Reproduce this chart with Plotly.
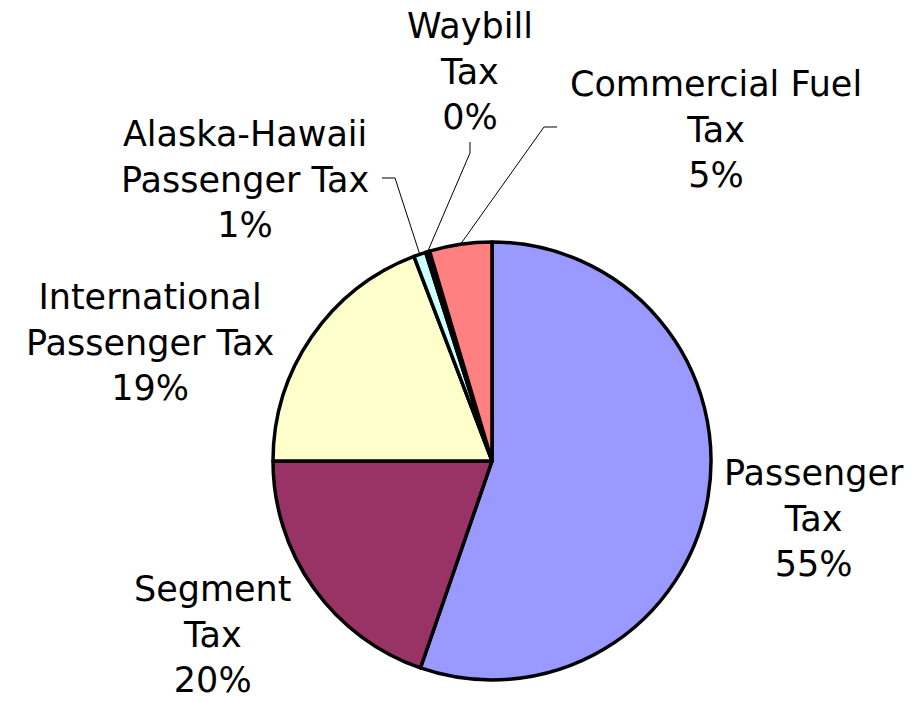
import math
import plotly.graph_objects as go

labels = ["Passenger Tax", "Segment Tax", "International Passenger Tax",
          "Alaska-Hawaii Passenger Tax", "Waybill Tax", "Commercial Fuel Tax"]
label_text = ["Passenger<br>Tax", "Segment<br>Tax", "International<br>Passenger Tax",
              "Alaska-Hawaii<br>Passenger Tax", "Waybill<br>Tax", "Commercial Fuel<br>Tax"]
values = [55.3, 19.7, 19.2, 0.9, 0.3, 4.6]
colors = ["#9999FF", "#993366", "#FFFFCC", "#CCFFFF", "#660066", "#FF8080"]

W, H = 912, 702
CX, CY, R = 492, 461, 219

# label anchor positions (pixels) and optional leader start points
label_pos = [(814, 518), (213, 634), (150, 342), (245, 180), (470, 72), (716, 130)]
leaders = {3: [(382, 178), (395, 178)],
           4: [(470, 142), (470, 153)],
           5: [(557, 127), (544, 127)]}

def px(x):
    return x / W

def py(y):
    return 1 - y / H

fig = go.Figure(go.Pie(
    labels=labels, values=values, sort=False, direction="clockwise", rotation=0,
    marker=dict(colors=colors, line=dict(color="black", width=3.5)),
    textinfo="none", hoverinfo="label+percent", showlegend=False,
    domain=dict(x=[px(CX - R), px(CX + R)], y=[py(CY + R), py(CY - R)]),
))

total = sum(values)
cum = 0
annotations = []
shapes = []
for i, v in enumerate(values):
    pct = v / total * 100
    mid = (cum + v / 2) / total * 360
    cum += v
    lx, ly = label_pos[i]
    annotations.append(dict(
        x=px(lx), y=py(ly), xref="paper", yref="paper",
        text=f"{label_text[i]}<br>{round(pct):d}%", showarrow=False,
        xanchor="center", yanchor="middle", align="center",
        font=dict(family="DejaVu Sans, Verdana, sans-serif", size=35, color="black"),
    ))
    if i in leaders:
        ex = CX + R * math.sin(math.radians(mid))
        ey = CY - R * math.cos(math.radians(mid))
        pts = leaders[i] + [(ex, ey)]
        path = "M " + " L ".join(f"{px(a):.5f},{py(b):.5f}" for a, b in pts)
        shapes.append(dict(type="path", path=path, xref="paper", yref="paper",
                           line=dict(color="black", width=1)))

fig.update_layout(
    width=W, height=H, margin=dict(l=0, r=0, t=0, b=0),
    paper_bgcolor="white", plot_bgcolor="white",
    annotations=annotations, shapes=shapes,
)

fig.write_html("out.html", config={"displayModeBar": False},
               post_script="document.body.style.margin='0';")
